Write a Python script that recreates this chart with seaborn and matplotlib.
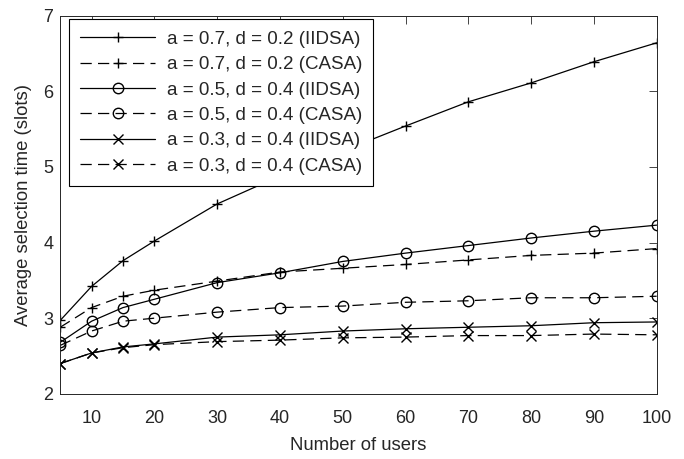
import numpy as np
import pandas as pd
import matplotlib
matplotlib.use("Agg")
import matplotlib.pyplot as plt
import seaborn as sns

# data
users = [5, 10, 15, 20, 30, 40, 50, 60, 70, 80, 90, 100]
iidsa_07 = [2.97, 3.42, 3.76, 4.02, 4.51, 4.88, 5.21, 5.54, 5.86, 6.11, 6.39, 6.64]
casa_07 = [2.88, 3.14, 3.29, 3.37, 3.49, 3.61, 3.66, 3.71, 3.77, 3.83, 3.86, 3.92]
iidsa_05 = [2.68, 2.96, 3.14, 3.25, 3.47, 3.60, 3.75, 3.86, 3.96, 4.06, 4.15, 4.23]
casa_05 = [2.64, 2.83, 2.96, 3.00, 3.08, 3.14, 3.16, 3.21, 3.23, 3.27, 3.27, 3.29]
iidsa_03 = [2.40, 2.54, 2.62, 2.66, 2.75, 2.78, 2.83, 2.86, 2.88, 2.90, 2.94, 2.95]
casa_03 = [2.40, 2.54, 2.61, 2.65, 2.69, 2.71, 2.74, 2.75, 2.77, 2.77, 2.79, 2.78]

labels = ["a = 0.7, d = 0.2 (IIDSA)", "a = 0.7, d = 0.2 (CASA)",
          "a = 0.5, d = 0.4 (IIDSA)", "a = 0.5, d = 0.4 (CASA)",
          "a = 0.3, d = 0.4 (IIDSA)", "a = 0.3, d = 0.4 (CASA)"]
series = [iidsa_07, casa_07, iidsa_05, casa_05, iidsa_03, casa_03]
markers = ["+", "+", "o", "o", "x", "x"]
styles = ["-", (0, (9, 5)), "-", (0, (9, 5)), "-", (0, (9, 5))]

sns.set_style("white")
plt.rcParams['font.family'] = ['Liberation Sans', 'DejaVu Sans']

fig, ax = plt.subplots(figsize=(6.84, 4.59), dpi=100)
fig.subplots_adjust(left=0.088, right=0.96, top=0.966, bottom=0.142)

for vals, lab, mk, ls in zip(series, labels, markers, styles):
    df = pd.DataFrame({"users": users, "time": vals})
    sns.lineplot(data=df, x="users", y="time", ax=ax, color="black", linewidth=0.9,
                 marker=mk, markersize=7.5, markerfacecolor="none", markeredgecolor="black",
                 markeredgewidth=1.0, linestyle=ls, label=lab)

ax.set_xlim(5, 100)
ax.set_ylim(2, 7)
ax.set_xticks(np.arange(10, 101, 10))
ax.set_yticks(np.arange(2, 8, 1))
ax.set_xlabel("Number of users", fontsize=13.3, color="#262626", labelpad=7)
ax.set_ylabel("Average selection time (slots)", fontsize=13.3, color="#262626", labelpad=8)
ax.tick_params(direction="in", top=True, right=True, length=6, width=0.6,
               labelsize=13, colors="#262626")
ax.tick_params(axis="x", pad=12)
ax.tick_params(axis="y", pad=5)
for sp in ax.spines.values():
    sp.set_visible(True)
    sp.set_color("#262626")
    sp.set_linewidth(0.7)

leg = ax.legend(loc="upper left", bbox_to_anchor=(0.015, 0.99), fontsize=13.5,
                frameon=True, fancybox=False, framealpha=1, edgecolor="black",
                handlelength=4.0, handletextpad=0.6, labelspacing=0.44,
                borderpad=0.6, borderaxespad=0.0)
leg.get_frame().set_linewidth(0.8)

fig.savefig("out.png", dpi=100)
